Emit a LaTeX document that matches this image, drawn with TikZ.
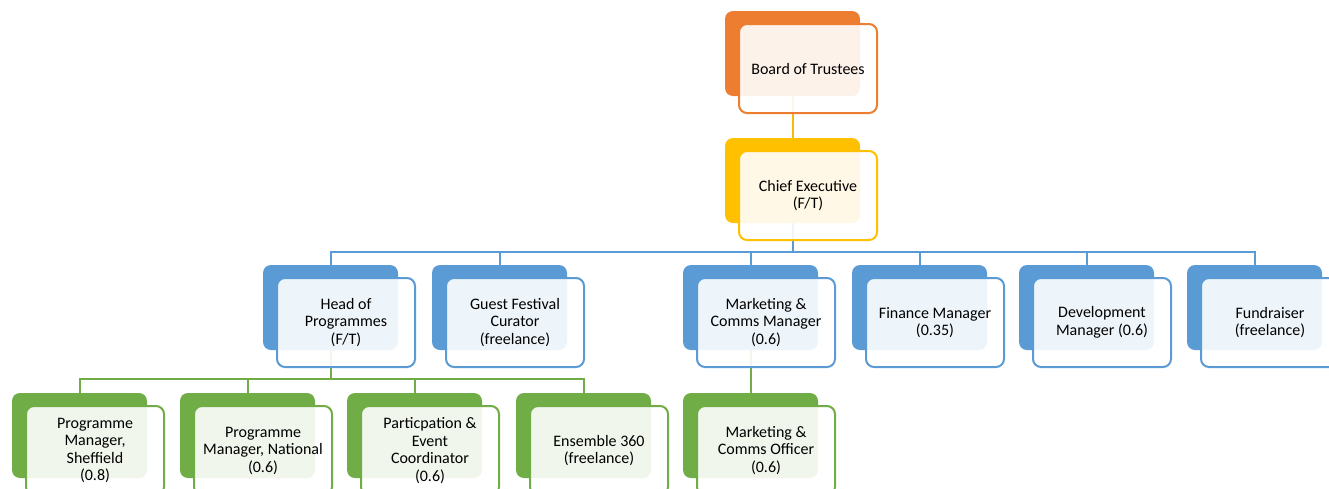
\documentclass[tikz,border=0pt]{standalone}
\usepackage{fontspec}
\setmainfont{Carlito}
\usetikzlibrary{backgrounds}

\definecolor{cOrange}{HTML}{ED7D31}
\definecolor{cGold}{HTML}{FFC000}
\definecolor{cBlue}{HTML}{5B9BD5}
\definecolor{cGreen}{HTML}{70AD47}
\definecolor{cLink}{HTML}{F8BA0A}

\tikzset{
  backbox/.style={draw=none, fill=#1, rounded corners=8pt, inner sep=0pt, outer sep=0pt,
    minimum width=135pt, minimum height=85pt, anchor=north west},
  frontbox/.style={draw=#1, line width=2pt, fill=white, fill opacity=0.9, text opacity=1,
    rounded corners=8pt, inner sep=0pt, outer sep=0pt,
    minimum width=138pt, minimum height=89pt, anchor=north west, align=center,
    font=\fontsize{16}{17.5}\selectfont},
  link/.style={draw=#1, line width=2pt},
}

% one position in the chart: solid tab behind, outlined text card in front
\newcommand\orgunit[5]{%
  \node[backbox=#4] (#1-b) at (#2,#3) {};
  \node[frontbox=#4] (#1) at (#2+14,#3+13) {#5};
}

\begin{document}
\begin{tikzpicture}[x=1pt,y=-1pt]
  \useasboundingbox (0,0) rectangle (1329,488);
  \clip (0,0) rectangle (1329,488);

  % top of the organisation
  \orgunit{bt}{725}{11}{cOrange}{Board of Trustees}
  \orgunit{ceo}{725}{138}{cGold}{Chief Executive\\(F/T)}

  % senior staff
  \orgunit{hp}{263}{265}{cBlue}{Head of\\Programmes\\(F/T)}
  \orgunit{gf}{432}{265}{cBlue}{Guest Festival\\Curator\\(freelance)}
  \orgunit{mc}{683}{265}{cBlue}{Marketing \&\\Comms Manager\\(0.6)}
  \orgunit{fm}{852}{265}{cBlue}{Finance Manager\\(0.35)}
  \orgunit{dm}{1019}{265}{cBlue}{Development\\Manager (0.6)}
  \orgunit{fr}{1187}{265}{cBlue}{Fundraiser\\(freelance)}

  % programme and marketing teams
  \orgunit{ps}{12}{393}{cGreen}{Programme\\Manager,\\Sheffield\\(0.8)}
  \orgunit{pn}{180}{393}{cGreen}{Programme\\Manager, National\\(0.6)}
  \orgunit{pe}{347}{393}{cGreen}{Particpation \&\\Event\\Coordinator\\(0.6)}
  \orgunit{en}{516}{393}{cGreen}{Ensemble 360\\(freelance)}
  \orgunit{mo}{683}{393}{cGreen}{Marketing \&\\Comms Officer\\(0.6)}

  % reporting lines, kept beneath the boxes
  \begin{scope}[on background layer]
    \coordinate (bus2) at (0,252);
    \coordinate (bus3) at (0,379);

    \draw[link=cLink] (bt-b.south) -- (ceo-b.north);

    \draw[link=cBlue] (ceo-b.south) -- (ceo-b.south |- bus2);
    \draw[link=cBlue] (hp-b.north) |- (fr-b.north |- bus2) -- (fr-b.north);
    \foreach \n in {gf,mc,fm,dm}
      \draw[link=cBlue] (\n-b.north |- bus2) -- (\n-b.north);

    \draw[link=cGreen] (hp-b.south) -- (hp-b.south |- bus3);
    \draw[link=cGreen] (ps-b.north) |- (en-b.north |- bus3) -- (en-b.north);
    \foreach \n in {pn,pe}
      \draw[link=cGreen] (\n-b.north |- bus3) -- (\n-b.north);

    \draw[link=cGreen] (mc-b.south) -- (mo-b.north);
  \end{scope}
\end{tikzpicture}
\end{document}
